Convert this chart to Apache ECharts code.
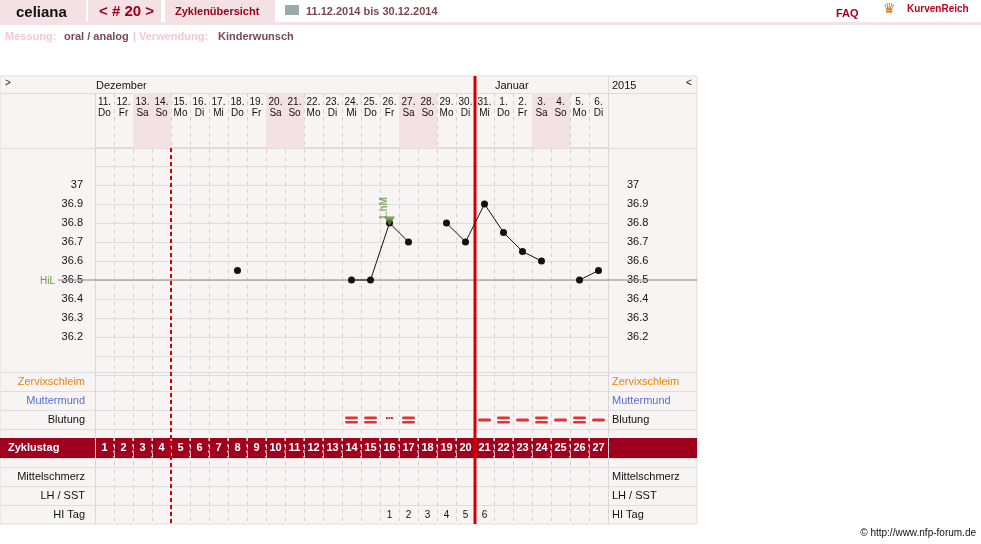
<!DOCTYPE html>
<html><head><meta charset="utf-8">
<script src="https://cdn.jsdelivr.net/npm/echarts@6/dist/echarts.min.js"></script>
<style>html,body{margin:0;padding:0;background:#fff}#c{width:981px;height:544px}</style>
</head><body><div id="c"></div>
<script>
const dayNums = ['11','12','13','14','15','16','17','18','19','20','21','22','23','24','25','26','27','28','29','30','31','1','2','3','4','5','6'];
const weekdays = ['Do','Fr','Sa','So','Mo','Di','Mi','Do','Fr','Sa','So','Mo','Di','Mi','Do','Fr','Sa','So','Mo','Di','Mi','Do','Fr','Sa','So','Mo','Di'];
const cycleDays = [1,2,3,4,5,6,7,8,9,10,11,12,13,14,15,16,17,18,19,20,21,22,23,24,25,26,27];
const temps = [null,null,null,null,null,null,null,36.55,null,null,null,null,null,36.5,36.5,36.8,36.7,null,36.8,36.7,36.9,36.75,36.65,36.6,null,36.5,36.55];
const bleeding = [0,0,0,0,0,0,0,0,0,0,0,0,0,2,2,3,2,0,0,0,1,2,1,2,1,2,1]; // 1 single,2 double,3 dots
const hiTag = ['','','','','','','','','','','','','','','','1','2','3','4','5','6','','','','','',''];
const coverline = 36.5;
const peakIndex = 15;
const ovulationAfter = 19;
const dottedAfter = 3;
const yTicks = [36.2,36.3,36.4,36.5,36.6,36.7,36.8,36.9,37];

const F = '"Liberation Sans", Arial, sans-serif';
const cats = dayNums.map((d,i)=>i);
const GL=95, GW=513, TT=93, TH=431;
const R = {d1:9, d2:20, zer:289, mut:308, blu:327, band:355, hi:422};
const chart = echarts.init(document.getElementById('c'));

function txtSeries(y, texts, style){
  return {type:'custom', xAxisIndex:1, yAxisIndex:1, silent:true, z:6,
    data: texts.map((t,i)=>[i,y,t]).filter(d=>d[2]!==''),
    renderItem:(p,api)=>{
      const c=api.coord([api.value(0),api.value(1)]);
      const t=texts[api.value(0)];
      return {type:'text',style:Object.assign({x:c[0],y:c[1],text:t,align:'center',verticalAlign:'middle',font:'10px '+F,fill:'#111'},style)};
    }};
}
const weekend = weekdays.map((w,i)=>(w==='Sa'||w==='So')?i:null).filter(v=>v!==null);

const hl = [93,148,372,391,410,429,458,467,486,505];
const graphics = [
  {type:'rect',shape:{x:0,y:0,width:86,height:23},style:{fill:'#f3e1e3'}},
  {type:'rect',shape:{x:88,y:0,width:73,height:23},style:{fill:'#f3e1e3'}},
  {type:'rect',shape:{x:165,y:0,width:110,height:23},style:{fill:'#f3e1e3'}},
  {type:'rect',shape:{x:0,y:22,width:981,height:3},style:{fill:'#f3e1e3'}},
  {type:'text',style:{x:16,y:5,text:'celiana',font:'bold 15px '+F,fill:'#111'}},
  {type:'text',style:{x:99,y:4,text:'< # 20 >',font:'bold 15px '+F,fill:'#a0001e'}},
  {type:'text',style:{x:175,y:6,text:'Zyklenübersicht',font:'bold 11px '+F,fill:'#a0001e'}},
  {type:'rect',shape:{x:285,y:5,width:14,height:10},style:{fill:'#9aa'}},
  {type:'text',style:{x:306,y:6,text:'11.12.2014 bis 30.12.2014',font:'bold 11px '+F,fill:'#7a4a50'}},
  {type:'text',style:{x:836,y:8,text:'FAQ',font:'bold 11px '+F,fill:'#a0001e'}},
  {type:'text',style:{x:907,y:4,text:'KurvenReich',font:'bold 10px '+F,fill:'#c00020'}},
  {type:'text',style:{x:883,y:2,text:'♛',font:'14px '+F,fill:'#e07010'}},
  {type:'text',style:{x:5,y:31,text:'Messung:',font:'bold 11px '+F,fill:'#f4c8cc'}},
  {type:'text',style:{x:64,y:31,text:'oral / analog',font:'bold 11px '+F,fill:'#7a4a50'}},
  {type:'text',style:{x:133,y:31,text:'|',font:'bold 11px '+F,fill:'#f4c8cc'}},
  {type:'text',style:{x:139,y:31,text:'Verwendung:',font:'bold 11px '+F,fill:'#f4c8cc'}},
  {type:'text',style:{x:218,y:31,text:'Kinderwunsch',font:'bold 11px '+F,fill:'#7a4a50'}},
  {type:'rect',z:-10,shape:{x:0,y:76,width:697,height:448},style:{fill:'#f9f4f4',stroke:'#ddd',lineWidth:1}},
  {type:'rect',z:-9,shape:{x:0,y:438,width:697,height:20},style:{fill:'#a0001e'}},
  {type:'line',z:-9,shape:{x1:95.5,y1:93,x2:95.5,y2:524},style:{stroke:'#ddd'}},
  {type:'line',z:-9,shape:{x1:608.5,y1:76,x2:608.5,y2:524},style:{stroke:'#ddd'}},
  {type:'text',style:{x:5,y:78,text:'>',font:'10px '+F,fill:'#111'}},
  {type:'text',style:{x:686,y:78,text:'<',font:'10px '+F,fill:'#111'}},
  {type:'text',style:{x:96,y:80,text:'Dezember',font:'11px '+F,fill:'#111'}},
  {type:'text',style:{x:495,y:80,text:'Januar',font:'11px '+F,fill:'#111'}},
  {type:'text',style:{x:612,y:80,text:'2015',font:'11px '+F,fill:'#111'}},
  {type:'text',style:{x:8,y:442,text:'Zyklustag',font:'bold 11px '+F,fill:'#fff'}},
  {type:'text',style:{x:85,y:376,text:'Zervixschleim',font:'11px '+F,fill:'#f08000',align:'right'}},
  {type:'text',style:{x:85,y:395,text:'Muttermund',font:'11px '+F,fill:'#5a6ed0',align:'right'}},
  {type:'text',style:{x:85,y:414,text:'Blutung',font:'11px '+F,fill:'#111',align:'right'}},
  {type:'text',style:{x:85,y:471,text:'Mittelschmerz',font:'11px '+F,fill:'#111',align:'right'}},
  {type:'text',style:{x:85,y:490,text:'LH / SST',font:'11px '+F,fill:'#111',align:'right'}},
  {type:'text',style:{x:85,y:509,text:'HI Tag',font:'11px '+F,fill:'#111',align:'right'}},
  {type:'text',style:{x:612,y:376,text:'Zervixschleim',font:'11px '+F,fill:'#f08000'}},
  {type:'text',style:{x:612,y:395,text:'Muttermund',font:'11px '+F,fill:'#5a6ed0'}},
  {type:'text',style:{x:612,y:414,text:'Blutung',font:'11px '+F,fill:'#111'}},
  {type:'text',style:{x:612,y:471,text:'Mittelschmerz',font:'11px '+F,fill:'#111'}},
  {type:'text',style:{x:612,y:490,text:'LH / SST',font:'11px '+F,fill:'#111'}},
  {type:'text',style:{x:612,y:509,text:'HI Tag',font:'11px '+F,fill:'#111'}},
  {type:'text',style:{x:40,y:276,text:'HiL',font:'10px '+F,fill:'#6a9a4a'}},
  {type:'text',style:{x:976,y:528,text:'© http://www.nfp-forum.de',font:'10px '+F,fill:'#111',align:'right'}}
].concat(hl.map(y=>({type:'line',z:-9,shape:{x1:0,y1:y+0.5,x2:697,y2:y+0.5},style:{stroke:'#ddd'}})));

function colRect(idx, y0, y1, color, dash, w){
  return {type:'custom', xAxisIndex:1, yAxisIndex:1, silent:true, z:5, data:idx.map(i=>[i]),
    renderItem:(p,api)=>{
      const c=api.coord([api.value(0),0]); const sw=api.size([1,0])[0];
      const a=api.coord([0,y0])[1], b=api.coord([0,y1])[1];
      if(color.fill) return {type:'rect',shape:{x:c[0]-sw/2,y:a,width:sw,height:b-a},style:{fill:color.fill}};
      return {type:'line',shape:{x1:c[0]+sw/2,y1:a,x2:c[0]+sw/2,y2:b},style:{stroke:color.stroke,lineWidth:w||1,lineDash:dash}};
    }};
}
const dbl='path://M1,0h10a1.5,1.5 0 0 1 0,3h-10a1.5,1.5 0 0 1 0,-3zM1,5h10a1.5,1.5 0 0 1 0,3h-10a1.5,1.5 0 0 1 0,-3z', sgl='path://M1,0h10a1.5,1.5 0 0 1 0,3h-10a1.5,1.5 0 0 1 0,-3z';

chart.setOption({
  animation:false,
  graphic:graphics,
  grid:[{left:GL,width:GW,top:147,height:228},{left:GL,width:GW,top:TT,height:TH}],
  xAxis:[
    {type:'category',data:cats,gridIndex:0,show:false},
    {type:'category',data:cats,gridIndex:1,axisLine:{show:false},axisTick:{show:false},axisLabel:{show:false},
     splitLine:{show:true,interval:0,lineStyle:{color:'#d8d0d0',type:[4,4]}}}
  ],
  yAxis:[
    {type:'value',gridIndex:0,min:36.0,max:37.2,interval:0.1,axisLine:{show:false},axisTick:{show:false},
     splitLine:{lineStyle:{color:'#ddd'}},
     axisLabel:{margin:12,fontFamily:F,fontSize:11,color:'#111',formatter:v=>yTicks.some(t=>Math.abs(t-v)<1e-6)?String(+v.toFixed(1)):''}},
    {type:'value',gridIndex:1,min:0,max:TH,inverse:true,show:false},
    {type:'value',gridIndex:0,position:'right',min:36.0,max:37.2,interval:0.1,axisLine:{show:false},axisTick:{show:false},splitLine:{show:false},
     axisLabel:{margin:19,align:'left',fontFamily:F,fontSize:11,color:'#111',formatter:v=>yTicks.some(t=>Math.abs(t-v)<1e-6)?String(+v.toFixed(1)):''}}
  ],
  series:[
    colRect(weekend,0,55,{fill:'#f3e1e3'}),
    txtSeries(R.d1,dayNums.map(d=>d+'.'),{}),
    txtSeries(R.d2,weekdays,{}),
    colRect(cats.slice(0,26),345,365,{stroke:'#fff'},[3,3]),
    txtSeries(R.band,cycleDays.map(String),{fill:'#fff',font:'bold 11px '+F}),
    txtSeries(R.hi,hiTag,{}),
    colRect([dottedAfter],55,TH,{stroke:'#d40000'},[4,3],2),
    colRect([ovulationAfter],-17,TH,{stroke:'#d40000'},null,3),
    {type:'scatter',xAxisIndex:1,yAxisIndex:1,silent:true,z:6,itemStyle:{color:'#e00000'},
     data:bleeding.map((b,i)=>b===1||b===2?{value:[i,R.blu],symbol:b===2?dbl:sgl,symbolSize:b===2?[13,7]:[13,3]}:null).filter(Boolean)},
    txtSeries(R.blu-2,bleeding.map(b=>b===3?'•••':''),{fill:'#e00000',font:'bold 7px '+F}),
    {type:'line',xAxisIndex:0,yAxisIndex:0,data:temps,connectNulls:false,symbol:'circle',symbolSize:7,showSymbol:true,
     lineStyle:{color:'#111',width:1},itemStyle:{color:'#111'},z:10},
    {type:'scatter',xAxisIndex:0,yAxisIndex:0,z:11,symbol:'triangle',symbolRotate:180,symbolSize:[11,9],symbolOffset:[0,-2],
     itemStyle:{color:'#5a8a3a'},data:[[peakIndex,temps[peakIndex]]],
     label:{show:true,formatter:'1.hM',rotate:90,position:'top',distance:8,color:'#6a9a4a',fontWeight:'bold',fontSize:10,fontFamily:F}}
  ]
});
const cy = chart.convertToPixel({gridIndex:0},[0,coverline])[1];
chart.setOption({graphic:graphics.concat([{type:'line',z:3,shape:{x1:58,y1:cy,x2:697,y2:cy},style:{stroke:'#8a8a8a',lineWidth:1}}])});
</script></body></html>
